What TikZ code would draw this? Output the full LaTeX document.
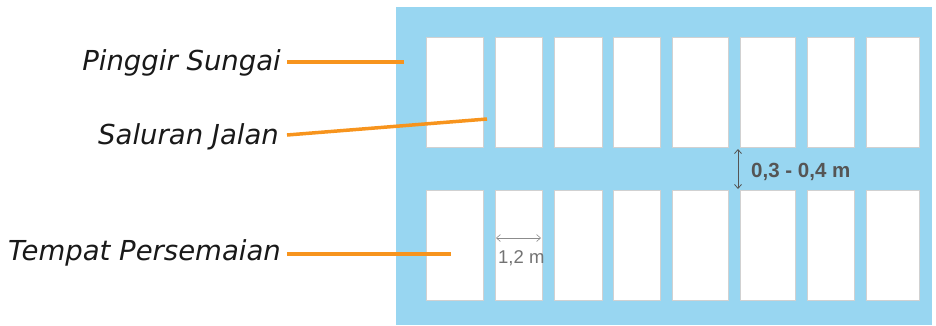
\documentclass[tikz,border=0pt]{standalone}
\usepackage{fontspec}
\setmainfont{Liberation Sans}
\newfontfamily\labelfont{DejaVu Sans}
\usetikzlibrary{arrows.meta}
\definecolor{water}{HTML}{98D6F1}
\definecolor{leader}{HTML}{F7941D}
\definecolor{dimgray}{HTML}{555555}
\tikzset{
  bed/.style={draw=black!18, line width=0.8pt, fill=white},
  leaderline/.style={draw=leader, line width=3.5pt},
  label/.style={anchor=base east, inner sep=0pt, text=black!90, font=\labelfont\fontsize{27.5}{32}\selectfont\itshape},
  dimarrow/.style={draw=dimgray, line width=0.8pt, {Straight Barb[length=4pt,width=7pt]}-{Straight Barb[length=4pt,width=7pt]}},
}
\begin{document}
\begin{tikzpicture}[x=1pt,y=-1pt]
\useasboundingbox (0,0) rectangle (936,325);
% canal area
\fill[water] (396,7) rectangle (932,325);
% seedbeds, two rows of eight
\foreach \i/\a/\b in {1/426/483,2/495/542,3/554/602,4/613/660,5/672/728,6/740/795,7/807/854,8/866/919}{
  \path[bed] (\a,37) rectangle (\b,147) coordinate (t\i);
  \path[bed] (\a,190) rectangle (\b,300) coordinate (b\i);
}
% labels
\node[label] (sungai) at (281,70) {Pinggir Sungai};
\node[label] (jalan) at (279,144) {Saluran Jalan};
\node[label] (semai) at (281,260) {Tempat Persemaian};
\coordinate (s1) at (287,62);
\coordinate (s2) at (287,135);
\coordinate (s3) at (287,254);
\coordinate (p1) at (404,62);
\coordinate (p2) at (487,119);
\coordinate (p3) at (451,254);
\draw[leaderline] (s1) -- (p1);
\draw[leaderline] (s2) -- (p2);
\draw[leaderline] (s3) -- (p3);
% gap between rows
\coordinate (g1) at (738,149);
\coordinate (g2) at (738,189);
\draw[dimarrow] (g1) -- (g2);
\node[anchor=base west, inner sep=0pt, text=dimgray, font=\bfseries\fontsize{20.5}{24}\selectfont] (gap) at (751,177) {0,3 - 0,4 m};
% bed width
\coordinate (w1) at (496,238);
\coordinate (w2) at (541,238);
\draw[dimarrow, draw=black!45, line width=0.6pt] (w1) -- (w2);
\node[anchor=base west, inner sep=0pt, text=black!55, font=\fontsize{18.5}{22}\selectfont] (width) at (498,263) {1,2 m};
\end{tikzpicture}
\end{document}
